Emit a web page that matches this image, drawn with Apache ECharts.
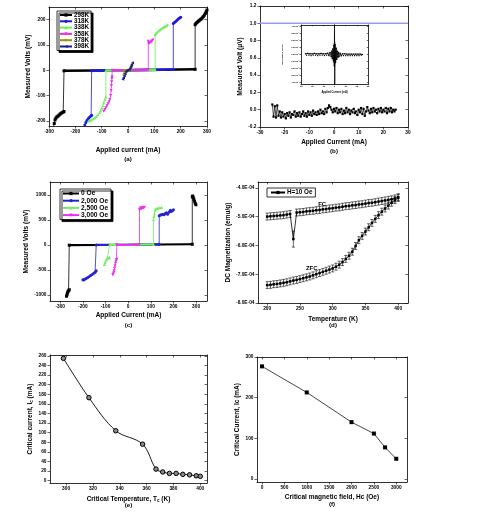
<!DOCTYPE html>
<html><head><meta charset="utf-8">
<script src="https://cdn.jsdelivr.net/npm/echarts@6/dist/echarts.min.js"></script>
<style>html,body{margin:0;padding:0;background:#fff}#c{width:500px;height:514px}</style>
</head><body><div id="c"></div>
<script>
// ================= DATA =================
// (a) I-V curves at different temperatures
const aNames = ['298K','318K','338K','358K','378K','398K'];
const a298 = [[-290,-248],[-286,-238],[-283,-224],[-280,-210],[-277,-196],[-274,-189],[-270,-184],[-266,-181],[-262,-177],[-258,-173],[-254,-170],[-250,-167],[-246,-165],[-243,-163],[-243,-2],[255,4],[255,180],[258,185],[262,189],[266,193],[270,196],[274,200],[278,203],[282,207],[286,212],[290,218],[294,225],[297,231],[300,238]];
const a318 = [[-195,-250],[-188,-248],[-181,-246],[-176,-241],[-171,-236],[-167,-228],[-164,-216],[-160,-206],[-156,-198],[-152,-192],[-148,-187],[-144,-183],[-140,-180],[-138,-178],[-138,-2],[172,3],[172,185],[176,189],[180,192],[184,196],[188,200],[192,204],[196,207],[200,210]];
const a338 = [[-150,-200],[-144,-198],[-138,-195],[-132,-191],[-126,-187],[-120,-182],[-114,-176],[-108,-168],[-104,-160],[-100,-150],[-96,-140],[-92,-128],[-88,-115],[-84,-105],[-84,-1],[103,2],[103,140],[106,145],[110,150],[115,155],[120,159],[125,163],[130,167],[135,170],[140,173],[145,176],[150,180]];
const a358 = [[-92,-162],[-88,-155],[-84,-148],[-80,-140],[-76,-132],[-72,-124],[-69,-115],[-66,-100],[-64,-80],[-63,-60],[-62,-45],[-61,-32],[-60,-25],[-60,0],[77,3],[77,115],[79,106],[82,108],[85,110],[88,113],[91,116],[94,120]];
const a378 = [[-16,-18],[-14,-12],[-13,0],[13,1],[13,14],[15,18]];
const a398 = [[-20,-35],[-17,-29],[-14,-22],[-11,-14],[-8,-6],[-5,-1],[0,0],[5,3],[8,9],[11,16],[14,23],[17,30]];
const aFlat = [
  [[-243,-2],[0,0],[255,4]],
  [[-138,-2],[0,0],[172,3]],
  [[-84,-1],[0,0],[103,2]],
  [[-60,0],[0,1],[77,3]],
  [[-13,0],[13,1]],
  []
];
const aTicksX = [-300,-200,-100,0,100,200,300];
const aTicksY = [-200,-100,0,100,200];

// (b) low-current sweep
const bNoise = [
[-25,0.06],[-24.5,-0.08],[-24,0.04],[-23.5,-0.09],[-23,0.05],[-22.5,-0.07],[-22,-0.02],[-21.5,-0.09],[-21,-0.03],[-20.5,-0.08],
[-20,-0.05],[-19.5,-0.1],[-19,-0.04],[-18.5,-0.07],[-18,-0.03],[-17.5,-0.09],[-17,-0.05],[-16.5,-0.06],[-16,-0.02],[-15.5,-0.08],
[-15,-0.04],[-14.5,-0.07],[-14,-0.03],[-13.5,-0.08],[-13,-0.05],[-12.5,-0.02],[-12,-0.07],[-11.5,-0.04],[-11,-0.08],[-10.5,-0.02],
[-10,-0.06],[-9.5,-0.03],[-9,-0.07],[-8.5,-0.01],[-8,-0.05],[-7.5,-0.03],[-7,-0.06],[-6.5,-0.02],[-6,-0.05],[-5.5,0.0],
[-5,-0.04],[-4.5,-0.02],[-4,-0.05],[-3.5,0.01],[-3,-0.03],[-2.5,0.02],[-2,0.05],[-1.5,0.03],[-1,0.0],[-0.5,-0.03],
[0,0.01],[0.5,-0.02],[1,0.02],[1.5,-0.04],[2,0.0],[2.5,-0.03],[3,0.01],[3.5,-0.05],[4,-0.01],[4.5,-0.04],
[5,0.02],[5.5,-0.03],[6,0.0],[6.5,-0.05],[7,-0.01],[7.5,-0.03],[8,0.01],[8.5,-0.04],[9,-0.02],[9.5,-0.06],
[10,0.0],[10.5,-0.03],[11,0.02],[11.5,-0.05],[12,0.01],[12.5,-0.07],[13,-0.02],[13.5,0.03],[14,-0.01],[14.5,-0.04],
[15,0.01],[15.5,-0.03],[16,0.02],[16.5,-0.02],[17,0.0],[17.5,-0.04],[18,0.01],[18.5,-0.02],[19,0.02],[19.5,-0.03],
[20,0.0],[20.5,-0.02],[21,0.02],[21.5,-0.04],[22,0.01],[22.5,-0.02],[23,0.02],[23.5,-0.03],[24,0.0],[24.5,-0.02],[25,0.0]
];
const bRef = [[-30,1.0],[30,1.0]];
const bInset = [[-26,0.1],[-25,-0.1],[-24,0.15],[-23,-0.1],[-22,0.1],[-21,-0.15],[-20,0.1],[-19,-0.1],[-18,0.15],[-17,-0.1],[-16,0.1],[-15,-0.15],[-14,0.1],[-13,-0.1],[-12,0.15],[-11,-0.1],[-10,0.1],[-9,-0.15],[-8,0.1],[-7,-0.1],[-6,0.2],[-5,-0.15],[-4,0.3],[-3,-0.3],[-2.5,0.5],[-2,-0.6],[-1.5,0.8],[-1,-0.9],[-0.5,1.3],[-0.2,-1.6],[0,4.3],[0.2,-4.3],[0.5,1.4],[1,-1.1],[1.5,0.9],[2,-0.7],[2.5,0.5],[3,-0.4],[3.5,0.3],[4,-0.3],[5,0.2],[6,-0.2],[7,0.1],[8,-0.15],[9,0.1],[10,-0.15],[11,0.05],[12,-0.15],[13,0.05],[14,-0.15],[15,0.05],[16,-0.15],[17,0.05],[18,-0.15],[19,0.05],[20,-0.15],[21,0.05],[22,-0.15],[23,0.05],[24,-0.1],[25,0.0]];
const bInsetGray = [[-1.2,0.4],[-0.8,-1.2],[-0.4,1.6],[0,-1.8],[0.4,1.8],[0.8,-1.4],[1.2,0.6]];
const bInsetTicksY = [-4,-3,-2,-1,0,1,2,3,4];

// (c) I-V curves at different magnetic fields
const cNames = ['0 Oe','2,000 Oe','2,500 Oe','3,000 Oe'];
const c0 = [[-272,-1030],[-270,-1000],[-268,-965],[-266,-940],[-263,-920],[-260,-900],[-260,-8],[283,10],[283,960],[285,975],[287,945],[290,910],[293,870],[296,830],[299,800]];
const c2000 = [[-200,-700],[-196,-705],[-192,-690],[-186,-675],[-180,-660],[-173,-640],[-166,-615],[-159,-595],[-152,-570],[-146,-550],[-141,-520],[-141,-3],[137,8],[137,580],[142,595],[147,600],[152,610],[158,600],[163,620],[168,640],[174,610],[180,650],[186,690],[190,665],[195,680],[200,700]];
const c2500 = [[-105,-395],[-102,-360],[-99,-320],[-96,-290],[-92,-270],[-88,-262],[-84,-258],[-82,-255],[-82,-2],[112,6],[112,500],[114,560],[116,620],[118,680],[121,715],[126,725],[132,735],[140,740],[148,745]];
const c3000 = [[-68,-600],[-66,-585],[-64,-560],[-62,-520],[-60,-470],[-58,-420],[-56,-370],[-54,-330],[-52,-300],[-50,-290],[-50,-2],[50,5],[50,700],[53,720],[56,740],[60,720],[64,745],[68,735],[72,750]];
const cFlat = [
  [[-260,-8],[0,0],[283,10]],
  [[-141,-3],[0,0],[137,8]],
  [[-82,-2],[0,0],[112,6]],
  [[-50,-2],[0,0],[50,5]]
];
const cTicksX = [-300,-200,-100,0,100,200,300];
const cTicksY = [-1000,-500,0,500,1000];

// (d) FC / ZFC magnetization
const dT = [200,205,210,215,220,225,230,235,240,245,250,255,260,265,270,275,280,285,290,295,300,305,310,315,320,325,330,335,340,345,350,355,360,365,370,375,380,385,390,395,400];
const dFC = [-5.00e-4,-4.99e-4,-4.98e-4,-4.97e-4,-4.96e-4,-4.95e-4,-4.93e-4,-4.91e-4,-5.78e-4,-4.86e-4,-4.85e-4,-4.84e-4,-4.82e-4,-4.81e-4,-4.80e-4,-4.78e-4,-4.77e-4,-4.75e-4,-4.74e-4,-4.72e-4,-4.71e-4,-4.69e-4,-4.68e-4,-4.66e-4,-4.64e-4,-4.63e-4,-4.61e-4,-4.60e-4,-4.58e-4,-4.57e-4,-4.55e-4,-4.53e-4,-4.52e-4,-4.50e-4,-4.48e-4,-4.46e-4,-4.44e-4,-4.42e-4,-4.40e-4,-4.37e-4,-4.33e-4];
const dZFC = [-7.38e-4,-7.37e-4,-7.35e-4,-7.34e-4,-7.32e-4,-7.30e-4,-7.28e-4,-7.25e-4,-7.22e-4,-7.20e-4,-7.17e-4,-7.14e-4,-7.11e-4,-7.08e-4,-7.04e-4,-7.00e-4,-6.96e-4,-6.92e-4,-6.88e-4,-6.84e-4,-6.80e-4,-6.74e-4,-6.67e-4,-6.58e-4,-6.47e-4,-6.36e-4,-6.22e-4,-6.02e-4,-5.82e-4,-5.67e-4,-5.52e-4,-5.37e-4,-5.22e-4,-5.08e-4,-4.95e-4,-4.83e-4,-4.72e-4,-4.62e-4,-4.52e-4,-4.43e-4,-4.35e-4];
const dFCErr = [0.12e-4,0.12e-4,0.12e-4,0.12e-4,0.12e-4,0.12e-4,0.12e-4,0.12e-4,0.28e-4,0.12e-4,0.12e-4,0.12e-4,0.12e-4,0.12e-4,0.12e-4,0.12e-4,0.12e-4,0.12e-4,0.12e-4,0.12e-4,0.12e-4,0.12e-4,0.12e-4,0.12e-4,0.12e-4,0.12e-4,0.12e-4,0.12e-4,0.12e-4,0.12e-4,0.12e-4,0.12e-4,0.12e-4,0.12e-4,0.12e-4,0.12e-4,0.12e-4,0.12e-4,0.12e-4,0.12e-4,0.12e-4];
const dZFCErr = [0.12e-4,0.12e-4,0.12e-4,0.12e-4,0.12e-4,0.12e-4,0.12e-4,0.12e-4,0.12e-4,0.12e-4,0.12e-4,0.12e-4,0.12e-4,0.12e-4,0.12e-4,0.12e-4,0.12e-4,0.12e-4,0.12e-4,0.12e-4,0.12e-4,0.12e-4,0.12e-4,0.12e-4,0.12e-4,0.12e-4,0.12e-4,0.12e-4,0.12e-4,0.12e-4,0.12e-4,0.12e-4,0.12e-4,0.12e-4,0.12e-4,0.12e-4,0.12e-4,0.12e-4,0.12e-4,0.12e-4,0.12e-4];
const dTicksX = [200,250,300,350,400];
const dTicksY = [-8e-4,-7e-4,-6e-4,-5e-4,-4e-4];
const dLegend = 'H=10 Oe';

// (e) critical current vs temperature
const eT = [298,317,337,357,367,372,377,382,387,392,397,400];
const eIc = [255,173,104,76,24,18,15,15,13,12,10,9];
const eTicksX = [300,320,340,360,380,400];
const eTicksY = [0,20,40,60,80,100,120,140,160,180,200,220,240,260];

// (f) critical current vs field
const fH = [0,1000,2000,2500,2750,3000];
const fIc = [277,213,140,112,78,50];
const fTicksX = [0,500,1000,1500,2000,2500,3000];
const fTicksY = [0,100,200,300];

// ================= STYLE / BUILD =================
const FONT = "'Liberation Sans', Arial, Helvetica, sans-serif";
const TF = 6.5;  // axis title font
const LF = 4.8;  // tick label font
const grids = [], xAxes = [], yAxes = [], series = [];

function richX(L) {
  return {
    t: {fontFamily: FONT, fontSize: TF, fontWeight: 'bold', color: '#000', lineHeight: 8},
    s: {fontFamily: FONT, fontSize: 4.6, fontWeight: 'bold', color: '#000', lineHeight: 8, padding: [3, 0, 0, 0]},
    p: {fontFamily: FONT, fontSize: 6.2, fontWeight: 'bold', color: '#000', lineHeight: L}
  };
}
function mkAxis(gi, o, pos, main) {
  const a = {
    gridIndex: gi, type: 'value', position: pos, min: o.min, max: o.max,
    splitLine: {show: false},
    axisLine: {show: true, onZero: false, lineStyle: {color: '#000', width: 0.8}},
    axisTick: {show: true, inside: !main, length: o.tl || 2.5, lineStyle: {color: '#000', width: 0.6}},
    axisLabel: {show: main && !o.noLabel, fontFamily: FONT, fontSize: o.fs || LF, fontWeight: 'bold', color: '#000',
      margin: o.lm == null ? 3.5 : o.lm, formatter: o.fmt || (v => String(v))}
  };
  if (o.interval != null) a.interval = o.interval;
  if (o.ticks) { a.axisTick.customValues = o.ticks; a.axisLabel.customValues = o.ticks; }
  if (main && o.name) {
    a.name = o.name; a.nameLocation = 'middle'; a.nameGap = o.gap;
    a.nameRotate = (pos === 'left') ? 90 : 0;
    a.nameTextStyle = o.rich ? {rich: o.rich} : {fontFamily: FONT, fontSize: o.nfs || TF, fontWeight: 'bold', color: '#000', lineHeight: 8};
  }
  return a;
}
function panel(rect, xo, yo) {
  const gi = grids.length;
  grids.push(Object.assign({show: false}, rect));
  const xi = xAxes.length, yi = yAxes.length;
  xAxes.push(mkAxis(gi, xo, 'bottom', true), mkAxis(gi, xo, 'top', false));
  yAxes.push(mkAxis(gi, yo, 'left', true), mkAxis(gi, yo, 'right', false));
  return {xi, yi};
}
function addLine(ax, name, data, o) {
  series.push(Object.assign({
    type: 'line', name, data, xAxisIndex: ax.xi, yAxisIndex: ax.yi,
    showAllSymbol: true, animation: false
  }, o));
}

// ---- panel (a)
const PA = panel({left: 49, top: 7, width: 158, height: 119},
  {min: -300, max: 300, interval: 100, name: '{t|Applied current (mA)}\n{p|(a)}', gap: 20, rich: richX(10)},
  {min: -220, max: 250, ticks: aTicksY, name: 'Measured Volts (mV)', gap: 16});
const aData = [a298, a318, a338, a358, a378, a398];
const aColors = ['#000000', '#1c1cd8', '#6fee5c', '#ea2fea', '#9a9a00', '#1a1a8a'];
const aSym = ['rect', 'circle', 'triangle', 'triangle', 'diamond', 'triangle'];
const aRot = [0, 0, 0, 180, 0, 90];
aNames.forEach((n, i) => {
  addLine(PA, n, aData[i], {symbol: aSym[i], symbolRotate: aRot[i], symbolSize: 3,
    lineStyle: {color: aColors[i], width: 0.8}, itemStyle: {color: aColors[i]}});
  if (aFlat[i].length) addLine(PA, n, aFlat[i], {showSymbol: false, symbol: 'none',
    lineStyle: {color: aColors[i], width: 2.6}, itemStyle: {color: aColors[i]}});
});

// ---- panel (b)
const PB = panel({left: 260, top: 6, width: 148, height: 121},
  {min: -30, max: 30, interval: 10, name: '{t|Applied Current (mA)}\n{p|(b)}', gap: 11.7, rich: richX(8.6)},
  {min: -0.2, max: 1.2, interval: 0.2, fmt: v => v.toFixed(1), name: 'Measured Volt (\u03bcV)', gap: 13});
addLine(PB, 'ref', bRef, {showSymbol: false, symbol: 'none', lineStyle: {color: '#9a9af0', width: 1.4}});
addLine(PB, 'noise', bNoise, {symbol: 'rect', symbolSize: 2.2, lineStyle: {color: '#000', width: 0.7}, itemStyle: {color: '#000'}});

// inset
const PBI = panel({left: 301, top: 25, width: 67, height: 59},
  {min: -30, max: 30, interval: 10, fs: 2.3, lm: 1, tl: 1.2, name: 'Applied Current (mA)', gap: 4, nfs: 2.6},
  {min: -4.2, max: 4.2, ticks: bInsetTicksY, fs: 2.2, lm: 1, tl: 1.2,
   fmt: v => v.toFixed(1) + 'x10\u207b\u2074', name: 'Resistance (Ohm)', gap: 13, nfs: 2.4});
addLine(PBI, 'insetGray', bInsetGray, {showSymbol: false, symbol: 'none', lineStyle: {color: '#999', width: 1.2}});
addLine(PBI, 'inset', bInset, {symbol: 'rect', symbolSize: 1.2, lineStyle: {color: '#000', width: 0.8}, itemStyle: {color: '#000'}});

// ---- panel (c)
const PC = panel({left: 50, top: 182, width: 157, height: 119},
  {min: -345, max: 348, ticks: cTicksX, name: '{t|Applied Current (mA)}\n{p|(c)}', gap: 10.7, rich: richX(10.6)},
  {min: -1125, max: 1255, ticks: cTicksY, name: 'Measured Volts (mV)', gap: 17});
const cData = [c0, c2000, c2500, c3000];
const cColors = ['#000000', '#2424cc', '#74ee62', '#ec30ec'];
const cSym = ['rect', 'circle', 'triangle', 'triangle'];
const cRot = [0, 0, 0, 180];
cNames.forEach((n, i) => {
  addLine(PC, n, cData[i], {symbol: cSym[i], symbolRotate: cRot[i], symbolSize: 3,
    lineStyle: {color: cColors[i], width: 0.8}, itemStyle: {color: cColors[i]}});
  addLine(PC, n, cFlat[i], {showSymbol: false, symbol: 'none',
    lineStyle: {color: cColors[i], width: 2.2}, itemStyle: {color: cColors[i]}});
});

// ---- panel (d)
const PD = panel({left: 258, top: 182, width: 150, height: 121},
  {min: 186, max: 415, ticks: dTicksX, name: '{t|Temperature (K)}\n{p|(d)}', gap: 12, rich: richX(4.5)},
  {min: -8e-4, max: -3.8e-4, ticks: dTicksY, fmt: v => (v * 1e4).toFixed(1) + 'E-04',
   name: 'DC Magnetization (emu/g)', gap: 24});
function errRender(params, api) {
  const x = api.value(0), y = api.value(1), e = api.value(2);
  const p1 = api.coord([x, y + e]), p2 = api.coord([x, y - e]);
  const w = 1.6, st = {stroke: '#000', lineWidth: 0.6};
  return {type: 'group', children: [
    {type: 'line', shape: {x1: p1[0], y1: p1[1], x2: p2[0], y2: p2[1]}, style: st},
    {type: 'line', shape: {x1: p1[0] - w, y1: p1[1], x2: p1[0] + w, y2: p1[1]}, style: st},
    {type: 'line', shape: {x1: p2[0] - w, y1: p2[1], x2: p2[0] + w, y2: p2[1]}, style: st}
  ]};
}
const fcPts = dT.map((t, i) => [t, dFC[i]]);
const zfcPts = dT.map((t, i) => [t, dZFC[i]]);
series.push({type: 'custom', name: 'fcErr', xAxisIndex: PD.xi, yAxisIndex: PD.yi, renderItem: errRender,
  data: dT.map((t, i) => [t, dFC[i], dFCErr[i]]), encode: {x: 0, y: 1}, animation: false});
series.push({type: 'custom', name: 'zfcErr', xAxisIndex: PD.xi, yAxisIndex: PD.yi, renderItem: errRender,
  data: dT.map((t, i) => [t, dZFC[i], dZFCErr[i]]), encode: {x: 0, y: 1}, animation: false});
addLine(PD, dLegend, fcPts, {symbol: 'rect', symbolSize: 2.5, lineStyle: {color: '#000', width: 0.8}, itemStyle: {color: '#000'},
  markPoint: {symbol: 'circle', symbolSize: 0, silent: true, data: [{coord: [284, -4.56e-4], value: 'FC'}],
    label: {show: true, position: 'inside', formatter: 'FC', fontFamily: FONT, fontSize: 6, fontWeight: 'bold', color: '#000'}}});
addLine(PD, dLegend, zfcPts, {symbol: 'rect', symbolSize: 2.5, lineStyle: {color: '#000', width: 0.8}, itemStyle: {color: '#000'},
  markPoint: {symbol: 'circle', symbolSize: 0, silent: true, data: [{coord: [268, -6.78e-4], value: 'ZFC'}],
    label: {show: true, position: 'inside', formatter: 'ZFC', fontFamily: FONT, fontSize: 6, fontWeight: 'bold', color: '#000'}}});

// ---- panel (e)
const PE = panel({left: 50, top: 355, width: 157, height: 128},
  {min: 288, max: 405, ticks: eTicksX, name: '{t|Critical Temperature, T}{s|c}{t| (K)}\n{p|(e)}', gap: 12.3, rich: richX(4.8)},
  {min: -5, max: 262, ticks: eTicksY, name: '{t|Critical current, I}{s|c}{t| (mA)}', gap: 14, rich: richX(8)});
addLine(PE, 'Ic(T)', eT.map((t, i) => [t, eIc[i]]), {smooth: 0.35, symbol: 'circle', symbolSize: 4.5,
  lineStyle: {color: '#000', width: 0.9}, itemStyle: {color: '#8a8a8a', borderColor: '#000', borderWidth: 1}});

// ---- panel (f)
const PF = panel({left: 257, top: 357, width: 150, height: 125},
  {min: -112, max: 3240, ticks: fTicksX, name: '{t|Critical magnetic field, Hc (Oe)}\n{p|(f)}', gap: 11.3, rich: richX(5.4)},
  {min: -7, max: 300, ticks: fTicksY, name: 'Critical Current, Ic (mA)', gap: 13});
addLine(PF, 'Ic(H)', fH.map((h, i) => [h, fIc[i]]), {symbol: 'rect', symbolSize: 4,
  lineStyle: {color: '#333', width: 0.9}, itemStyle: {color: '#000'}});

// ---- legends
const legBase = {
  orient: 'vertical', selectedMode: false, backgroundColor: '#fff',
  borderColor: '#000', borderWidth: 0.8, borderRadius: 0
};
const legends = [
  Object.assign({}, legBase, {data: aNames, left: 57, top: 11, itemWidth: 12, itemHeight: 4, itemGap: 0.3,
    padding: [1, 2, 1, 2], shadowColor: '#000', shadowOffsetX: 2, shadowOffsetY: 2, shadowBlur: 0,
    textStyle: {fontFamily: FONT, fontSize: 6.3, fontWeight: 'bold', color: '#000', lineHeight: 6, padding: [0, 0, 0, -3]}}),
  Object.assign({}, legBase, {data: cNames, left: 60, top: 189, itemWidth: 16, itemHeight: 4, itemGap: 0.2,
    padding: [1, 2, 1, 2], shadowColor: '#000', shadowOffsetX: 2, shadowOffsetY: 2, shadowBlur: 0,
    textStyle: {fontFamily: FONT, fontSize: 6.6, fontWeight: 'bold', color: '#000', lineHeight: 5.6, width: 28, align: 'right', padding: [0, 0, 0, -3]}}),
  Object.assign({}, legBase, {data: [dLegend], left: 267, top: 188, itemWidth: 14, itemHeight: 4,
    padding: [1.5, 3, 1.5, 3],
    textStyle: {fontFamily: FONT, fontSize: 6.3, fontWeight: 'bold', color: '#000', padding: [0, 0, 0, -3]}})
];

const chart = echarts.init(document.getElementById('c'), null, {renderer: 'canvas'});
chart.setOption({
  animation: false,
  backgroundColor: '#fff',
  grid: grids,
  xAxis: xAxes,
  yAxis: yAxes,
  legend: legends,
  series: series
});
</script></body></html>
